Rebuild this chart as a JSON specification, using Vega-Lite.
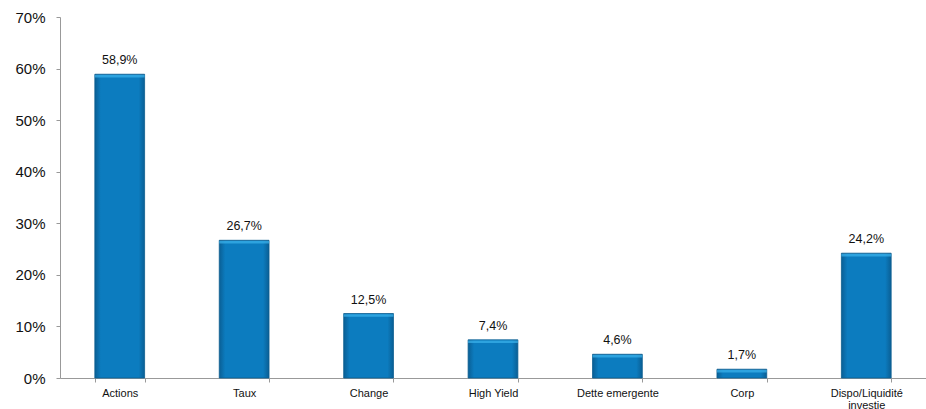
{
  "$schema": "https://vega.github.io/schema/vega-lite/v6.json",
  "autosize": "none",
  "width": 866,
  "height": 361,
  "padding": {"left": 60, "top": 17, "right": 0, "bottom": 31},
  "background": "white",
  "config": {
    "locale": {"number": {"decimal": ",", "thousands": " ", "grouping": [3], "currency": ["", " €"]}},
    "view": {"stroke": null},
    "font": "Liberation Sans"
  },
  "data": {
    "values": [
      {"cat": "Actions", "v": 0.589},
      {"cat": "Taux", "v": 0.267},
      {"cat": "Change", "v": 0.125},
      {"cat": "High Yield", "v": 0.074},
      {"cat": "Dette emergente", "v": 0.046},
      {"cat": "Corp", "v": 0.017},
      {"cat": "Dispo/Liquidité investie", "v": 0.242}
    ]
  },
  "encoding": {
    "x": {
      "field": "cat", "type": "nominal", "sort": null,
      "scale": {"paddingInner": 0.6, "paddingOuter": 0.28},
      "axis": {
        "title": null, "labelAngle": 0, "labelFontSize": 11, "labelColor": "#111",
        "labelPadding": 5, "tickBand": "extent", "tickSize": 4, "tickColor": "#999",
        "domainColor": "#999", "labelLimit": 200,
        "labelExpr": "datum.label == 'Dispo/Liquidité investie' ? ['Dispo/Liquidité', 'investie'] : datum.label",
        "labelLineHeight": 12
      }
    },
    "y": {
      "field": "v", "type": "quantitative",
      "scale": {"domain": [0, 0.7]},
      "axis": {
        "title": null, "format": ".0%", "values": [0, 0.1, 0.2, 0.3, 0.4, 0.5, 0.6, 0.7],
        "grid": false, "labelFontSize": 15, "labelColor": "#111", "labelPadding": 11,
        "tickSize": 4, "tickColor": "#999", "domainColor": "#999"
      }
    }
  },
  "layer": [
    {
      "mark": {
        "type": "bar",
        "stroke": "#0b5d8f", "strokeWidth": 0.8,
        "color": {
          "gradient": "linear", "x1": 0, "x2": 1, "y1": 0, "y2": 0,
          "stops": [
            {"offset": 0, "color": "#0a5f95"},
            {"offset": 0.12, "color": "#0c7cbf"},
            {"offset": 0.88, "color": "#0c7cbf"},
            {"offset": 1, "color": "#0a5f95"}
          ]
        }
      }
    },
    {
      "mark": {"type": "tick", "color": "#3cb4ec", "thickness": 2.5, "yOffset": 2, "bandSize": 44},
      "encoding": {}
    },
    {
      "mark": {"type": "text", "baseline": "bottom", "dy": -7, "fontSize": 12.5, "color": "#111"},
      "encoding": {"text": {"field": "v", "type": "quantitative", "format": ".1%"}}
    }
  ]
}
